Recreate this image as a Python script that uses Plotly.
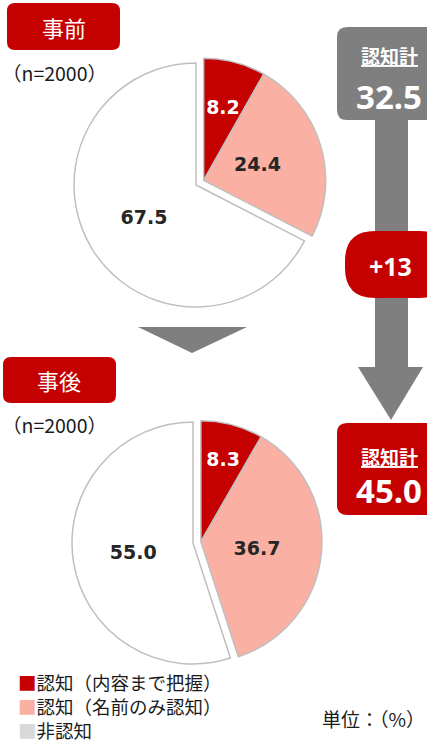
import plotly.graph_objects as go

# ---------------- data ----------------
categories = ["認知（内容まで把握）", "認知（名前のみ認知）", "非認知"]
before_values = [8.2, 24.4, 67.5]
after_values = [8.3, 36.7, 55.0]
period_labels = ["事前", "事後"]
sample_sizes = [2000, 2000]
aware_totals = [32.5, 45.0]
aware_diff_label = "+13"
unit_label = "単位：（%）"
total_label = "認知計"

# ---------------- styling ----------------
W, H = 427, 745
RED = "#C40000"
PINK = "#FAB1A3"
WHITE = "#FFFFFF"
GRAY = "#7F7F7F"
LEG_GRAY = "#D9D9D9"
BORDER = "#BFBFBF"
TXT = "#262626"
JP = "Noto Sans CJK JP"
NUM = "DejaVu Sans"
TRANSP = "rgba(0,0,0,0)"


def X(x):
    return x / W


def Y(y):
    return 1 - y / H


def rrect(x0, y0, x1, y1, r):
    return (f"M {X(x0+r)},{Y(y0)} L {X(x1-r)},{Y(y0)} Q {X(x1)},{Y(y0)} {X(x1)},{Y(y0+r)} "
            f"L {X(x1)},{Y(y1-r)} Q {X(x1)},{Y(y1)} {X(x1-r)},{Y(y1)} "
            f"L {X(x0+r)},{Y(y1)} Q {X(x0)},{Y(y1)} {X(x0)},{Y(y1-r)} "
            f"L {X(x0)},{Y(y0+r)} Q {X(x0)},{Y(y0)} {X(x0+r)},{Y(y0)} Z")


def poly(pts):
    return "M " + " L ".join(f"{X(a)},{Y(b)}" for a, b in pts) + " Z"


def dom(cx, cy, r):
    return dict(x=[X(cx - r), X(cx + r)], y=[Y(cy + r), Y(cy - r)])


def ann(x, y, text, size, color="white", family=JP, xanchor="center", yanchor="middle"):
    return dict(x=X(x), y=Y(y), xref="paper", yref="paper", xanchor=xanchor, yanchor=yanchor,
                text=text, showarrow=False, align="left",
                font=dict(family=family, size=size, color=color))


fig = go.Figure()

# (values, (cx, cy, r), pull offset, radius used for placing the aware labels)
pies = [
    (before_values, (196, 185, 122), (7.7, -4.7), 95),
    (after_values, (193, 543, 121), (7.9, -1.3), 108),
]

common = dict(labels=categories, sort=False, direction="clockwise", rotation=0,
              showlegend=False, hoverinfo="skip", textinfo="text", textposition="inside",
              insidetextorientation="horizontal")

for vals, (cx, cy, r), (dx, dy), lr in pies:
    txt = [f"{v:.1f}" for v in vals]
    # non-aware slice (not pulled)
    fig.add_trace(go.Pie(
        values=vals, domain=dom(cx, cy, r), **common,
        marker=dict(colors=[TRANSP, TRANSP, WHITE],
                    line=dict(color=[TRANSP, TRANSP, BORDER], width=[0, 0, 1.5])),
        text=["", "", txt[2]],
        textfont=dict(family=NUM, size=19, color=TXT, weight="bold"),
    ))
    # aware slices (pulled out together)
    fig.add_trace(go.Pie(
        values=vals, domain=dom(cx + dx, cy + dy, r), **common,
        marker=dict(colors=[RED, PINK, TRANSP],
                    line=dict(color=[BORDER, BORDER, TRANSP], width=[1.5, 1.5, 0])),
        text=["", "", ""],
    ))
    # labels of the aware slices (placed a bit nearer the centre)
    fig.add_trace(go.Pie(
        values=vals, domain=dom(cx + dx, cy + dy, lr), **common,
        marker=dict(colors=[TRANSP, TRANSP, TRANSP], line=dict(width=0)),
        text=[txt[0], txt[1], ""],
        textfont=dict(family=NUM, size=19, color=[WHITE, TXT, TXT], weight="bold"),
    ))

shapes = []
annotations = []

# period header boxes
for (x0, y0, x1, y1), lab, n, ny in [((7, 3, 120, 50), period_labels[0], sample_sizes[0], 72),
                                       ((3, 357, 116, 403), period_labels[1], sample_sizes[1], 425)]:
    shapes.append(dict(type="path", path=rrect(x0, y0, x1, y1, 8), xref="paper", yref="paper",
                       fillcolor=RED, line=dict(width=0), layer="below"))
    annotations.append(ann((x0 + x1) / 2, (y0 + y1) / 2, lab, 22))
    annotations.append(ann(0, ny, f"（n={n}）", 19.5, color="#1a1a1a", xanchor="left"))

# down arrow between pies
shapes.append(dict(type="path", path=poly([(138, 327), (247, 327), (192, 353)]),
                   xref="paper", yref="paper", fillcolor=GRAY, line=dict(width=0)))

# right side flow
shapes.append(dict(type="rect", x0=X(375), x1=X(408), y0=Y(368), y1=Y(115), xref="paper",
                   yref="paper", fillcolor=GRAY, line=dict(width=0)))
shapes.append(dict(type="path", path=poly([(358, 367), (423, 367), (391, 420)]),
                   xref="paper", yref="paper", fillcolor=GRAY, line=dict(width=0)))
shapes.append(dict(type="path", path=rrect(337, 27, 440, 120, 10), xref="paper", yref="paper",
                   fillcolor=GRAY, line=dict(width=0)))
shapes.append(dict(type="path", path=rrect(337, 423, 440, 515, 10), xref="paper", yref="paper",
                   fillcolor=RED, line=dict(width=0)))
shapes.append(dict(type="path", path=rrect(345, 231, 450, 298, 30), xref="paper", yref="paper",
                   fillcolor=RED, line=dict(width=0)))

for cy_lab, cy_num, tot in [(56, 96, aware_totals[0]), (457, 490, aware_totals[1])]:
    annotations.append(ann(389, cy_lab, f"<b><u>{total_label}</u></b>", 19))
    annotations.append(ann(389, cy_num, f"<b>{tot:.1f}</b>", 33, family="Noto Sans"))
annotations.append(ann(390, 266, f"<b>{aware_diff_label}</b>", 25, family="Noto Sans"))

# legend (one text block, one line per category)
leg_colors = [RED, PINK, LEG_GRAY]
leg_text = "<br>".join(f"<span style='color:{c}'>■</span>{lab}"
                       for c, lab in zip(leg_colors, categories))
annotations.append(ann(16, 745, leg_text, 18.5, color="#1a1a1a", xanchor="left",
                       yanchor="bottom"))
annotations.append(ann(427, 718, unit_label, 19, color="#1a1a1a", xanchor="right"))

fig.update_layout(
    width=W, height=H, margin=dict(l=0, r=0, t=0, b=0),
    paper_bgcolor="white", plot_bgcolor="white",
    shapes=shapes, annotations=annotations,
    uniformtext=dict(minsize=19, mode="show"),
    showlegend=False,
)

fig.write_html("out.html", config={"displayModeBar": False},
               post_script="document.body.style.margin='0px';")
